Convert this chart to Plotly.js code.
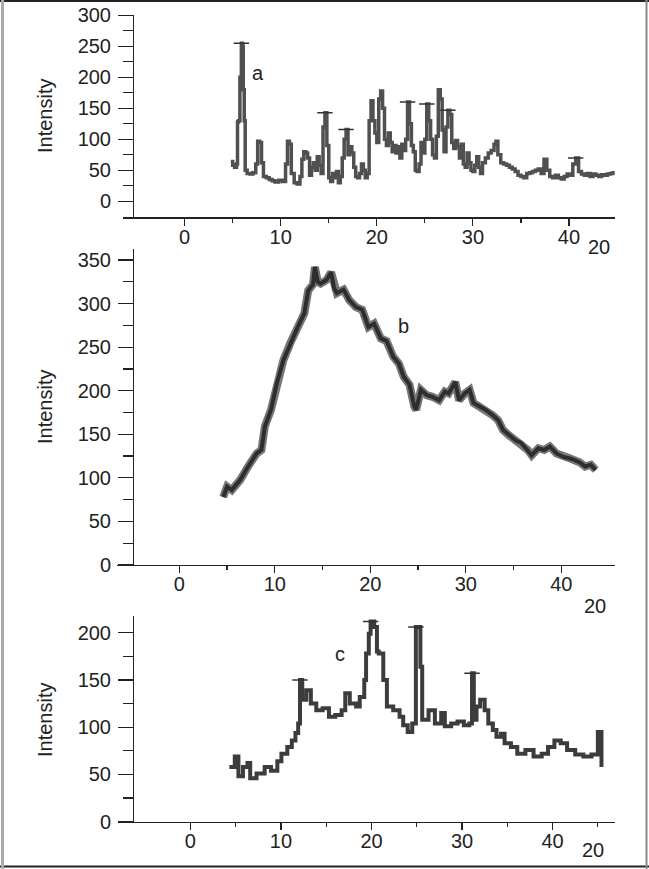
<!DOCTYPE html>
<html>
<head>
<meta charset="utf-8">
<script src="https://cdn.plot.ly/plotly-3.0.1.min.js"></script>
<style>
  body { margin: 0; background: #fff; }
  #xrd { width: 649px; height: 869px; }
</style>
</head>
<body>
<div id="xrd"></div>
<script>
// Pattern a
var thetaA = [4.8, 5.0, 5.2, 5.4, 5.5, 5.6, 5.75, 5.9, 6.0, 6.1, 6.2, 6.3, 6.5, 6.8, 7.1, 7.4, 7.6, 7.8, 8.0, 8.2,
  8.5, 8.8, 9.1, 9.4, 9.8, 10.2, 10.5, 10.7, 10.9, 11.1, 11.4, 11.7, 12.0, 12.2, 12.4, 12.6, 12.8, 13.0, 13.2, 13.4,
  13.6, 13.8, 14.0, 14.2, 14.4, 14.6, 14.8, 15.0, 15.2, 15.4, 15.6, 15.8, 16.0, 16.2, 16.4, 16.6, 16.8, 17.0, 17.2, 17.4,
  17.6, 17.8, 18.0, 18.2, 18.4, 18.6, 18.8, 19.0, 19.2, 19.4, 19.6, 19.8, 20.0, 20.2, 20.4, 20.6, 20.8, 21.0, 21.2, 21.4,
  21.6, 21.8, 22.0, 22.2, 22.4, 22.6, 22.8, 23.0, 23.2, 23.4, 23.6, 23.8, 24.0, 24.2, 24.4, 24.6, 24.8, 25.0, 25.2, 25.4,
  25.6, 25.8, 26.0, 26.2, 26.4, 26.6, 26.8, 27.0, 27.2, 27.4, 27.6, 27.8, 28.0, 28.2, 28.4, 28.6, 28.8, 29.0, 29.2, 29.4,
  29.6, 29.8, 30.0, 30.2, 30.4, 30.6, 30.8, 31.0, 31.3, 31.6, 31.9, 32.2, 32.4, 32.6, 32.9, 33.2, 33.5, 33.8, 34.1, 34.4,
  34.7, 35.0, 35.3, 35.6, 35.9, 36.2, 36.5, 36.8, 37.1, 37.4, 37.7, 38.0, 38.3, 38.6, 38.9, 39.2, 39.5, 39.8, 40.1, 40.4,
  40.7, 41.0, 41.3, 41.6, 41.9, 42.2, 42.5, 42.8, 43.1, 43.4, 43.7, 44.0, 44.3, 44.6, 44.8];
var intensityA = [64, 58, 55, 60, 128, 130, 200, 255, 250, 180, 130, 50, 45, 44, 46, 60, 97, 95, 62, 40,
  38, 35, 33, 31, 34, 32, 60, 97, 92, 45, 30, 28, 40, 68, 80, 78, 70, 42, 55, 62,
  50, 72, 58, 45, 120, 143, 90, 38, 32, 45, 38, 48, 30, 40, 70, 100, 116, 75, 88, 78,
  55, 40, 38, 45, 60, 50, 38, 45, 130, 162, 130, 110, 95, 165, 178, 150, 100, 90, 110, 95,
  80, 90, 78, 88, 70, 92, 82, 100, 160, 125, 90, 80, 50, 48, 60, 95, 78, 100, 157, 130,
  100, 75, 70, 105, 180, 165, 115, 80, 120, 147, 140, 95, 85, 98, 88, 70, 92, 60, 55, 78,
  62, 50, 48, 58, 72, 55, 45, 62, 70, 78, 82, 92, 97, 75, 62, 60, 58, 55, 52, 48,
  42, 40, 38, 45, 46, 48, 50, 52, 45, 68, 50, 40, 38, 42, 38, 36, 40, 44, 42, 60,
  70, 48, 44, 42, 45, 40, 44, 42, 40, 43, 42, 44, 45, 46, 46];
var peakThetaA = [5.9, 14.6, 16.8, 23.2, 25.2, 27.4, 40.7];
var peakIntA = [255, 143, 116, 160, 157, 147, 70];

// Pattern b
var thetaB = [4.6, 5.0, 5.5, 6.0, 6.4, 7.2, 8.1, 8.6, 8.96, 9.6, 10.2, 10.9, 11.6, 12.4, 13.1, 13.5, 14.0, 14.2, 14.5, 14.8,
  15.4, 15.9, 16.2, 16.5, 17.2, 17.8, 18.5, 19.15, 19.8, 20.4, 21.1, 21.7, 22.4, 23.0, 23.5, 24.1, 24.6, 24.8, 25.3, 25.9,
  26.5, 27.2, 27.8, 28.2, 28.9, 29.3, 29.9, 30.4, 30.8, 31.5, 32.1, 32.8, 33.4, 33.9, 34.5, 35.2, 35.8, 36.5, 36.9, 37.6,
  38.2, 38.8, 39.5, 40.2, 41.0, 41.9, 42.5, 43.1, 43.6];
var intensityB = [78, 90, 86, 92, 98, 113, 128, 132, 159, 178, 208, 235, 254, 273, 289, 315, 322, 342, 325, 323,
  327, 336, 318, 312, 316, 304, 296, 293, 273, 277, 260, 257, 239, 231, 216, 207, 182, 178, 201, 195,
  193, 189, 199, 197, 210, 189, 197, 201, 186, 182, 178, 172, 166, 155, 149, 143, 140, 132, 126, 134,
  132, 136, 128, 124, 122, 118, 113, 115, 109];

// Pattern c
var thetaC = [4.3, 4.9, 5.3, 5.8, 6.3, 6.6, 7.3, 8.2, 8.9, 9.6, 10.05, 10.7, 11.2, 11.6, 11.9, 12.1, 12.35, 12.8, 13.3, 13.9,
  14.6, 15.3, 16.0, 16.7, 17.1, 17.6, 18.3, 18.7, 19.2, 19.4, 19.7, 19.9, 20.3, 20.6, 20.8, 21.3, 21.7, 22.4, 23.1, 23.5,
  24.0, 24.5, 24.9, 25.4, 25.6, 26.3, 27.0, 27.7, 28.1, 28.8, 29.5, 30.2, 30.8, 31.1, 31.3, 31.6, 32.0, 32.5, 32.9, 33.4,
  33.8, 34.3, 34.7, 35.4, 36.1, 37.0, 37.9, 38.8, 39.5, 40.2, 40.9, 41.6, 42.5, 43.4, 44.3, 45.0, 45.4];
var intensityC = [58, 69, 48, 58, 62, 46, 51, 58, 54, 64, 72, 79, 86, 94, 104, 150, 129, 139, 125, 118,
  120, 111, 113, 118, 136, 125, 122, 132, 150, 178, 199, 212, 206, 180, 178, 150, 122, 118, 111, 102,
  95, 104, 206, 164, 108, 118, 104, 115, 101, 104, 106, 102, 104, 157, 108, 122, 129, 118, 104, 97,
  90, 93, 83, 79, 72, 76, 69, 72, 79, 86, 83, 76, 71, 69, 71, 95, 58];
var peakThetaC = [12.1, 19.9, 24.9, 31.1];
var peakIntC = [150, 212, 206, 157];

var txt = {family: 'Liberation Sans, Arial, sans-serif', size: 20, color: '#222'};

function xAxis(dom, rng, y, minorVals) {
  return {
    domain: dom, range: rng, anchor: y,
    showline: true, linecolor: '#222', linewidth: 1.3,
    showgrid: false, zeroline: false,
    ticks: 'outside', ticklen: 7, tickcolor: '#222', tickwidth: 1.2,
    tickvals: [0, 10, 20, 30, 40], ticktext: ['0', '10', '20', '30', '40'],
    minor: {tickvals: minorVals, ticks: 'outside', ticklen: 4, tickcolor: '#222', tickwidth: 1.2},
    tickfont: txt, ticklabelstandoff: -6
  };
}
function yAxis(dom, rng, majors, minors) {
  return {
    domain: dom, range: rng, anchor: 'free', position: 133 / 649,
    showline: true, linecolor: '#222', linewidth: 1.3,
    showgrid: false, zeroline: false,
    ticks: 'outside', ticklen: 15, tickcolor: '#222', tickwidth: 1.2,
    tickvals: majors,
    minor: {tickvals: minors, ticks: 'outside', ticklen: 10, tickcolor: '#222', tickwidth: 1.2},
    tickfont: txt, ticklabelstandoff: 3
  };
}
function peaks(x, y, xa, ya) {
  return {x: x, y: y, type: 'scatter', mode: 'markers', xaxis: xa, yaxis: ya,
    marker: {symbol: 'line-ew-open', size: 11, color: '#333', line: {color: '#333', width: 1.5}}};
}

var data = [
  {x: thetaA, y: intensityA, type: 'scatter', mode: 'lines', line: {color: '#505050', width: 3.5, shape: 'hv'}, xaxis: 'x', yaxis: 'y'},
  peaks(peakThetaA, peakIntA, 'x', 'y'),
  {x: thetaB, y: intensityB, type: 'scatter', mode: 'lines', line: {color: '#777', width: 8}, xaxis: 'x2', yaxis: 'y2'},
  {x: thetaB, y: intensityB, type: 'scatter', mode: 'lines', line: {color: '#2e2e2e', width: 4}, xaxis: 'x2', yaxis: 'y2'},
  {x: thetaC, y: intensityC, type: 'scatter', mode: 'lines', line: {color: '#3c3c3c', width: 4, shape: 'hv'}, xaxis: 'x3', yaxis: 'y3'},
  peaks(peakThetaC, peakIntC, 'x3', 'y3')
];

var H = 869, W = 649;
function note(t, x, y, extra) {
  var a = {text: t, xref: 'paper', yref: 'paper', x: x / W, y: 1 - y / H,
    xanchor: 'center', yanchor: 'middle', showarrow: false, font: txt};
  return Object.assign(a, extra || {});
}

var layout = {
  width: W, height: H,
  margin: {l: 0, r: 0, t: 0, b: 0},
  paper_bgcolor: '#fff', plot_bgcolor: 'rgba(0,0,0,0)',
  showlegend: false,
  xaxis: xAxis([122.7 / W, 614.7 / W], [-6.45, 44.76], 'y', [5, 15, 25, 35]),
  yaxis: yAxis([1 - 217.3 / H, 1 - 15.3 / H], [-25.8, 300], [0, 50, 100, 150, 200, 250, 300], [25, 75, 125, 175, 225, 275]),
  xaxis2: xAxis([117.3 / W, 614.7 / W], [-6.49, 45.59], 'y2', [5, 15, 25, 35]),
  yaxis2: yAxis([1 - 565 / H, 1 - 249.3 / H], [0, 362.3], [0, 50, 100, 150, 200, 250, 300, 350], [25, 75, 125, 175, 225, 275, 325]),
  xaxis3: xAxis([118 / W, 614.6 / W], [-8.0, 46.85], 'y3', [5, 15, 25, 35, 45]),
  yaxis3: yAxis([1 - 821.7 / H, 1 - 616 / H], [0, 217.7], [0, 50, 100, 150, 200], [25, 75, 125, 175]),
  annotations: [
    note('Intensity', 45, 116, {textangle: -90}),
    note('Intensity', 45, 407, {textangle: -90}),
    note('Intensity', 45, 720, {textangle: -90}),
    {text: 'a', xref: 'x', yref: 'y', x: 7.6, y: 207, showarrow: false, font: txt},
    {text: 'b', xref: 'x2', yref: 'y2', x: 23.5, y: 274, showarrow: false, font: txt},
    {text: 'c', xref: 'x3', yref: 'y3', x: 16.5, y: 178, showarrow: false, font: txt},
    note('20', 599, 247),
    note('20', 595, 606),
    note('20', 593, 850)
  ],
  shapes: [
    {type: 'line', xref: 'paper', yref: 'paper', x0: 0, x1: 1, y0: 1 - 1 / H, y1: 1 - 1 / H, line: {color: '#222', width: 2}},
    {type: 'line', xref: 'paper', yref: 'paper', x0: 0, x1: 1, y0: 1 - 866.5 / H, y1: 1 - 866.5 / H, line: {color: '#222', width: 2}},
    {type: 'line', xref: 'paper', yref: 'paper', x0: 2.5 / W, x1: 2.5 / W, y0: 0, y1: 1, line: {color: '#aaa', width: 3}},
    {type: 'line', xref: 'paper', yref: 'paper', x0: 646.5 / W, x1: 646.5 / W, y0: 0, y1: 1, line: {color: '#888', width: 2}}
  ]
};

Plotly.newPlot('xrd', data, layout, {displayModeBar: false, staticPlot: true});
</script>
</body>
</html>
